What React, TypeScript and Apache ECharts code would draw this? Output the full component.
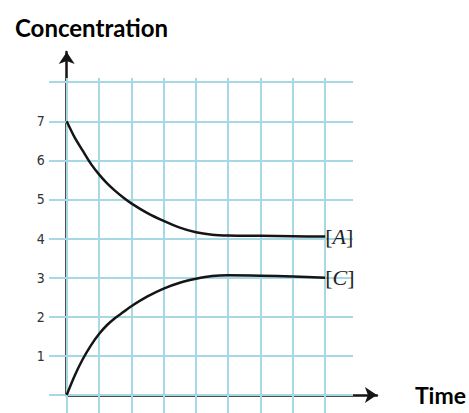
import React, { useEffect, useRef } from "react";
import * as echarts from "echarts";

// Data
const timeA = [0, 0.25, 0.5, 0.75, 1, 1.25, 1.5, 1.75, 2, 2.5, 3, 3.5, 4, 4.5, 5, 6, 7, 8];
const concA = [7, 6.58, 6.24, 5.91, 5.64, 5.41, 5.22, 5.05, 4.9, 4.65, 4.45, 4.28, 4.16, 4.1, 4.08, 4.07, 4.06, 4.05];
const timeC = [0, 0.25, 0.5, 0.75, 1, 1.25, 1.5, 1.75, 2, 2.5, 3, 3.5, 4, 4.5, 5, 6, 7, 8];
const concC = [0, 0.5, 0.92, 1.27, 1.56, 1.79, 1.97, 2.12, 2.27, 2.52, 2.72, 2.87, 2.97, 3.04, 3.06, 3.05, 3.03, 3.0];
const gridTimes = [0, 1, 2, 3, 4, 5, 6, 7, 8];
const gridConcs = [0, 1, 2, 3, 4, 5, 6, 7, 8];
const yTickLabels = [1, 2, 3, 4, 5, 6, 7];

const INK = "#151515";
const GRIDC = "#a6d9e3";

export default function App() {
  const ref = useRef<HTMLDivElement>(null);
  useEffect(() => {
    if (!ref.current) return;
    const chart = echarts.init(ref.current, null, { renderer: "svg" });
    const labelRich = {
      b: { fontFamily: "Liberation Serif", fontSize: 22, color: "#222" },
      i: { fontFamily: "Liberation Serif", fontStyle: "italic", fontSize: 22, color: "#222" },
    };
    chart.setOption({
      animation: false,
      backgroundColor: "#ffffff",
      title: {
        text: "Concentration",
        left: 10,
        top: 10,
        textStyle: { fontFamily: "Lato", fontWeight: "bold", fontSize: 24, color: "#000" },
      },
      grid: [
        { left: 49, top: 78, right: 116, bottom: 0, containLabel: false },
        { left: 66.7, top: 52, right: 92, bottom: 18, containLabel: false },
      ],
      xAxis: [
        { type: "value", gridIndex: 0, min: -0.548, max: 8.864, show: false },
        {
          type: "value",
          gridIndex: 1,
          min: 0,
          max: 9.6,
          axisLine: {
            show: true,
            symbol: ["none", "arrow"],
            symbolSize: [12, 12],
            lineStyle: { color: INK, width: 2.5 },
          },
          axisTick: { show: false },
          axisLabel: { show: false },
          splitLine: { show: false },
          name: "Time",
          nameLocation: "end",
          nameGap: 38,
          nameTextStyle: {
            fontFamily: "Lato",
            fontWeight: "bold",
            fontSize: 23,
            color: "#000",
            verticalAlign: "middle",
          },
        },
      ],
      yAxis: [
        { type: "value", gridIndex: 0, min: -0.46, max: 8.107, show: false },
        {
          type: "value",
          gridIndex: 1,
          min: 0,
          max: 8.77,
          interval: 1,
          axisLine: {
            show: true,
            symbol: ["none", "arrow"],
            symbolSize: [12, 12],
            lineStyle: { color: INK, width: 2.5 },
          },
          axisTick: { show: false },
          splitLine: { show: false },
          axisLabel: {
            margin: 22,
            fontFamily: "Liberation Sans Narrow, DejaVu Sans Condensed, sans-serif",
            fontSize: 14,
            color: "#333",
            formatter: (v: number) => (yTickLabels.indexOf(v) >= 0 ? String(v) : ""),
          },
        },
      ],
      series: [
        {
          type: "line",
          xAxisIndex: 0,
          yAxisIndex: 0,
          data: [],
          silent: true,
          z: 1,
          markLine: {
            silent: true,
            symbol: ["none", "none"],
            label: { show: false },
            lineStyle: { color: GRIDC, width: 2, type: "solid" },
            data: [
              ...gridTimes.map((t) => ({ xAxis: t })),
              ...gridConcs.map((c) => ({ yAxis: c })),
            ],
          },
        },
        {
          name: "A",
          type: "line",
          xAxisIndex: 1,
          yAxisIndex: 1,
          smooth: 0.3,
          showSymbol: false,
          z: 5,
          lineStyle: { color: INK, width: 2.5 },
          data: timeA.map((t, i) => [t, concA[i]]),
          endLabel: {
            show: true,
            distance: 0,
            formatter: "{b|[}{i|A}{b|]}",
            rich: labelRich,
          },
        },
        {
          name: "C",
          type: "line",
          xAxisIndex: 1,
          yAxisIndex: 1,
          smooth: 0.3,
          showSymbol: false,
          z: 5,
          lineStyle: { color: INK, width: 2.5 },
          data: timeC.map((t, i) => [t, concC[i]]),
          endLabel: {
            show: true,
            distance: 0,
            formatter: "{b|[}{i|C}{b|]}",
            rich: labelRich,
          },
        },
      ],
    });
    return () => chart.dispose();
  }, []);
  return (
    <div
      ref={ref}
      style={{ position: "absolute", left: 0, top: 0, width: 469, height: 413 }}
    />
  );
}
